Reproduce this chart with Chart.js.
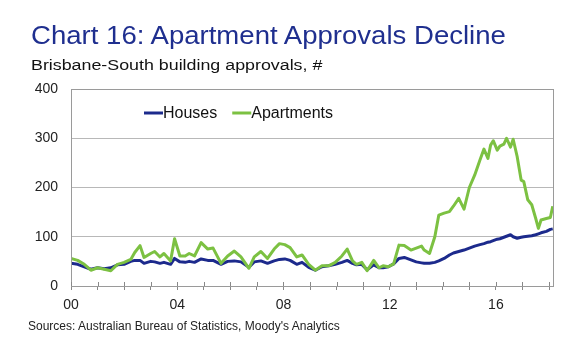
<!DOCTYPE html>
<html>
<head>
<meta charset="utf-8">
<script src="https://cdn.jsdelivr.net/npm/chart.js@4/dist/chart.umd.min.js"></script>
<style>
  body { margin: 0; background: #fff; font-family: "Liberation Sans", Arial, sans-serif; }
  #wrap { position: relative; width: 580px; height: 352px; }
  #title { position: absolute; left: 31px; top: 20px; font-size: 26px; color: #1f2f8f; white-space: nowrap; transform: scaleX(1.06); transform-origin: left top; }
  #sub { position: absolute; left: 31px; top: 56px; font-size: 15.5px; color: #111; white-space: nowrap; transform: scaleX(1.15); transform-origin: left top; }
  #src { position: absolute; left: 28px; top: 319px; font-size: 12px; color: #222; white-space: nowrap; }
  canvas { position: absolute; left: 0; top: 0; }
</style>
</head>
<body>
<div id="wrap">
  <canvas id="chart" width="580" height="352"></canvas>
  <div id="title">Chart 16: Apartment Approvals Decline</div>
  <div id="sub">Brisbane-South building approvals, #</div>
  <div id="src">Sources: Australian Bureau of Statistics, Moody's Analytics</div>
</div>
<script>
// Dates as decimal years
const dates = [
  2000.0, 2000.25, 2000.5, 2000.75, 2001.0, 2001.25, 2001.5, 2001.75, 2002.0, 2002.25,
  2002.4, 2002.6, 2002.75, 2003.0, 2003.15, 2003.35, 2003.5, 2003.75, 2003.9, 2004.1,
  2004.3, 2004.45, 2004.65, 2004.9, 2005.15, 2005.35, 2005.65, 2005.9, 2006.15, 2006.4,
  2006.7, 2006.9, 2007.15, 2007.4, 2007.65, 2007.85, 2008.05, 2008.25, 2008.5, 2008.7,
  2008.95, 2009.2, 2009.45, 2009.7, 2009.95, 2010.2, 2010.4, 2010.6, 2010.75, 2010.95,
  2011.15, 2011.4, 2011.6, 2011.75, 2011.95, 2012.15, 2012.35, 2012.55, 2012.8, 2013.0,
  2013.2, 2013.3, 2013.5, 2013.7, 2013.85, 2014.05, 2014.25, 2014.4, 2014.6, 2014.8,
  2015.0, 2015.2, 2015.4, 2015.55, 2015.7, 2015.8, 2015.9, 2016.05, 2016.15, 2016.3,
  2016.4, 2016.55, 2016.65, 2016.8, 2016.95, 2017.05, 2017.2, 2017.35, 2017.5, 2017.6,
  2017.7, 2017.9, 2018.05, 2018.14
];
const houses = [
  46, 44, 39, 34, 37, 35, 37, 43, 44, 50,
  52, 52, 46, 50, 49, 46, 48, 44, 56, 49,
  48, 50, 48, 55, 52, 52, 44, 50, 51, 49,
  38, 49, 51, 46, 51, 54, 55, 52, 44, 48,
  38, 32, 39, 41, 44, 48, 52, 46, 43, 44,
  33, 43, 37, 37, 39, 45, 56, 58, 53, 49,
  47, 46, 46, 48, 51, 56, 63, 67, 70, 73,
  77, 81, 84, 86, 89, 90, 92, 95, 96, 99,
  101, 104, 100, 97, 99, 100, 101, 102, 104, 106,
  108, 111, 115, 116
];
const apartments = [
  56, 52, 44, 32, 37, 34, 31, 44, 48, 54,
  68, 82, 58, 66, 70, 59, 66, 51, 96, 61,
  61, 66, 61, 88, 75, 77, 46, 61, 71, 59,
  36, 59, 70, 56, 75, 86, 84, 78, 59, 63,
  44, 32, 41, 41, 48, 61, 75, 51, 44, 48,
  31, 52, 37, 41, 39, 45, 83, 82, 73, 77,
  81, 73, 66, 100, 144, 148, 151, 162, 178, 156,
  200, 225, 256, 278, 259, 286, 295, 276, 284, 288,
  300, 282, 298, 263, 215, 212, 175, 165, 137, 117,
  134, 137, 139, 162
];
const tickYears = [2000, 2001, 2002, 2003, 2004, 2005, 2006, 2007, 2008, 2009,
  2010, 2011, 2012, 2013, 2014, 2015, 2016, 2017, 2018];
const labelYears = [2000, 2004, 2008, 2012, 2016];
const yTicks = [0, 100, 200, 300, 400];

const FONT = '"Liberation Sans", Arial, sans-serif';
const BLUE = '#1c2a8c';
const GREEN = '#7cc142';

function pairs(vals) {
  return dates.map((d, i) => ({ x: d, y: vals[i] }));
}

// frame round the plot, inner tick halves and the legend inside the plot
const framePlugin = {
  id: 'frame',
  afterDatasetsDraw(chart) {
    const ctx = chart.ctx;
    const a = chart.chartArea;
    const xs = chart.scales.x;
    ctx.save();
    ctx.strokeStyle = '#9a9a9a';
    ctx.lineWidth = 1;
    ctx.strokeRect(a.left + 0.5, a.top + 0.5, a.right - a.left, a.bottom - a.top);

    ctx.strokeStyle = '#888';
    xs.ticks.forEach(t => {
      const px = Math.round(xs.getPixelForValue(t.value)) + 0.5;
      ctx.beginPath();
      ctx.moveTo(px, a.bottom - 4);
      ctx.lineTo(px, a.bottom);
      ctx.stroke();
    });

    // legend
    ctx.font = '16px ' + FONT;
    ctx.textBaseline = 'middle';
    let x = 144;
    const y = 113;
    chart.data.datasets.forEach(ds => {
      ctx.strokeStyle = ds.borderColor;
      ctx.lineWidth = 3;
      ctx.beginPath();
      ctx.moveTo(x, y);
      ctx.lineTo(x + 19, y);
      ctx.stroke();
      ctx.fillStyle = '#111';
      ctx.fillText(ds.label, x + 19, y + 1);
      x += 19 + ctx.measureText(ds.label).width + 15;
    });
    ctx.restore();
  }
};

new Chart(document.getElementById('chart'), {
  type: 'line',
  data: {
    datasets: [
      { label: 'Houses', data: pairs(houses), borderColor: BLUE, borderWidth: 3, order: 1 },
      { label: 'Apartments', data: pairs(apartments), borderColor: GREEN, borderWidth: 3, order: 0 }
    ]
  },
  options: {
    responsive: false,
    animation: false,
    layout: { padding: { left: 0, top: 89, right: 27, bottom: 0 } },
    elements: { point: { radius: 0 }, line: { tension: 0, borderJoinStyle: 'round' } },
    plugins: { legend: { display: false }, tooltip: { enabled: false } },
    scales: {
      x: {
        type: 'linear',
        min: 2000,
        max: 2018.15,
        afterBuildTicks: s => { s.ticks = tickYears.map(v => ({ value: v })); },
        afterFit: s => { s.height = 66; },
        grid: { drawOnChartArea: false, drawTicks: true, tickLength: 4, color: '#888' },
        border: { color: '#888' },
        ticks: {
          autoSkip: false,
          maxRotation: 0,
          padding: 7,
          color: '#222',
          font: { family: FONT, size: 14 },
          callback: v => labelYears.includes(v) ? String(v).slice(2) : ''
        }
      },
      y: {
        min: 0,
        max: 400,
        afterBuildTicks: s => { s.ticks = yTicks.map(v => ({ value: v })); },
        afterFit: s => { s.width = 71; },
        grid: { color: '#b8b8b8', drawTicks: false },
        border: { color: '#888' },
        ticks: {
          padding: 13,
          color: '#222',
          font: { family: FONT, size: 14 }
        }
      }
    }
  },
  plugins: [framePlugin]
});
</script>
</body>
</html>
